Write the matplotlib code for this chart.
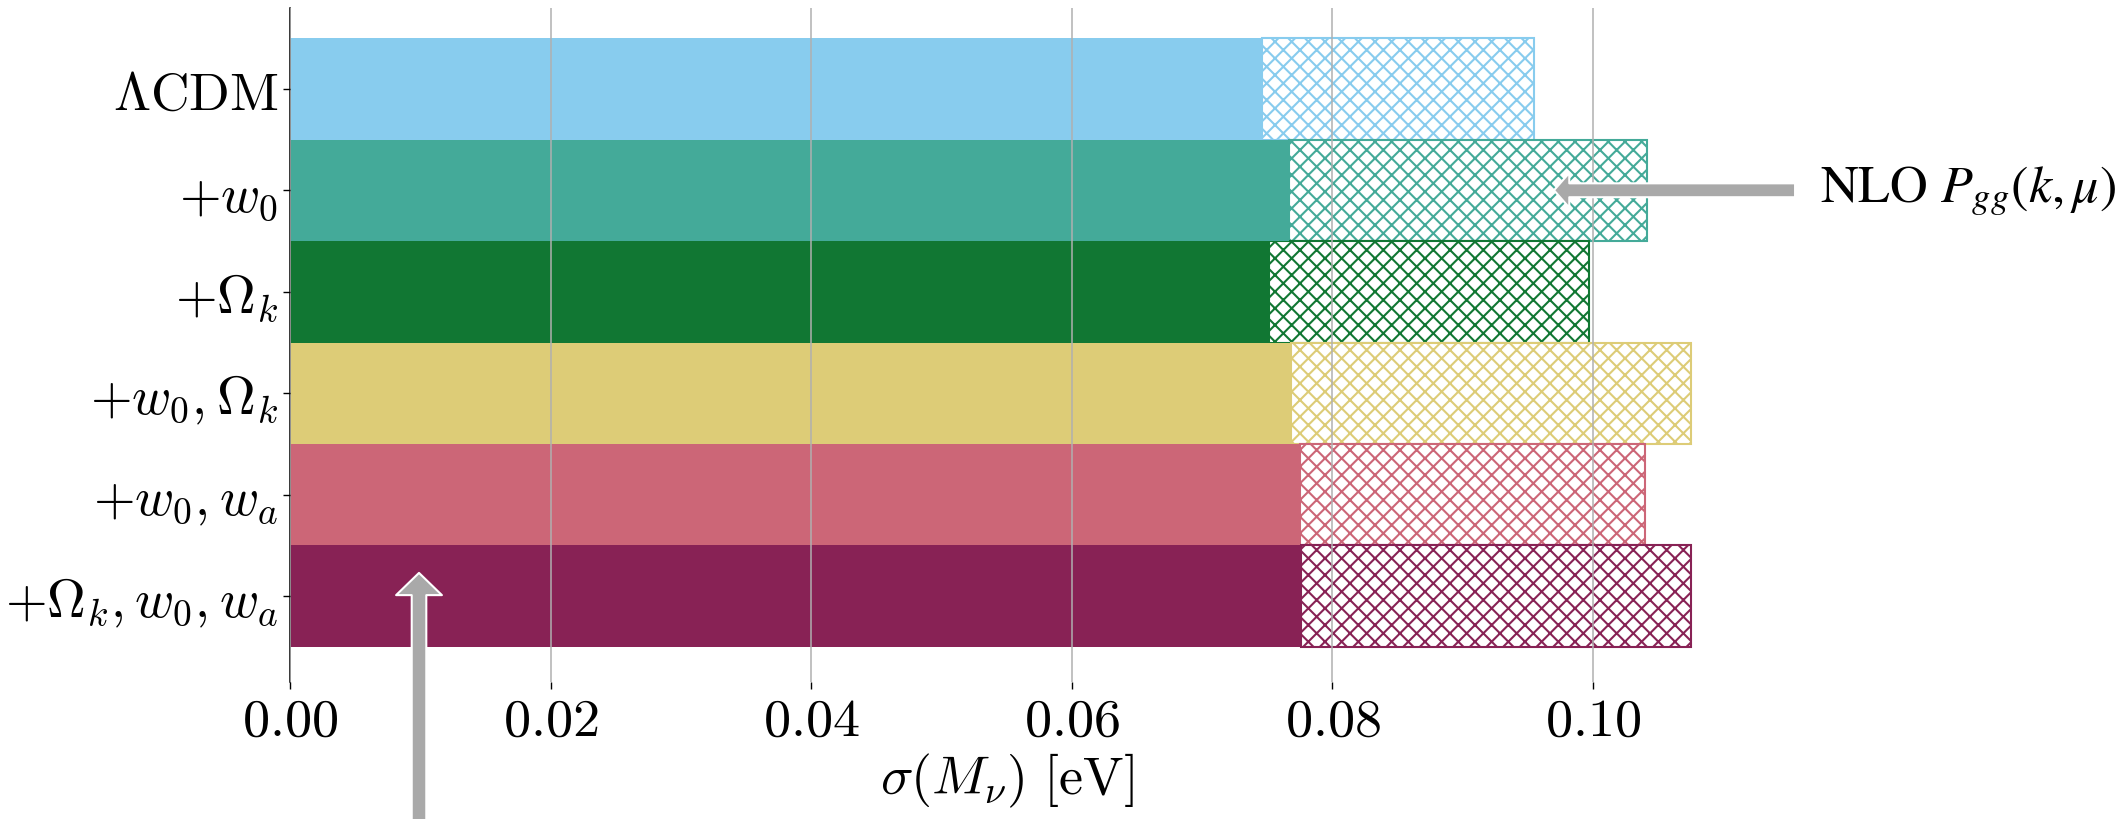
import matplotlib
matplotlib.use("Agg")
import matplotlib.pyplot as plt
import numpy as np

# ---- data ----
categories = [r"$\Lambda\mathrm{CDM}$", r"$+w_0$", r"$+\Omega_k$",
              r"$+w_0, \Omega_k$", r"$+w_0, w_a$", r"$+\Omega_k, w_0, w_a$"]
sigma_base = [0.0746, 0.0767, 0.0751, 0.0768, 0.0775, 0.0776]
sigma_nlo = [0.0955, 0.1041, 0.0997, 0.1075, 0.1040, 0.1075]
colors = ["#88CCEE", "#44AA99", "#117733", "#DDCC77", "#CC6677", "#882255"]
xticks = [0.00, 0.02, 0.04, 0.06, 0.08, 0.10]
xtick_labels = [r"$0.00$", r"$0.02$", r"$0.04$", r"$0.06$", r"$0.08$", r"$0.10$"]
xlabel = r"$\sigma(M_\nu)\ [\mathrm{eV}]$"
nlo_label = r"NLO $P_{gg}(k,\mu)$"

plt.rcParams["mathtext.fontset"] = "cm"
plt.rcParams["hatch.linewidth"] = 1.5
plt.rcParams["font.family"] = ["DejaVu Serif"]

fig = plt.figure(figsize=(21.23, 8.2), dpi=100)
ax = fig.add_axes([290 / 2123, 1 - 683 / 820, (1723.4 - 290) / 2123, (683 - 9.3) / 820])

y = np.arange(len(categories))
base = np.array(sigma_base)
nlo = np.array(sigma_nlo)

for i in range(len(categories)):
    ax.barh(y[i], nlo[i] - base[i], left=base[i], height=1.0, facecolor="white",
            edgecolor=colors[i], hatch="xx", linewidth=1.5, zorder=1)
    ax.barh(y[i], base[i], height=1.0, color=colors[i], linewidth=0, zorder=2)

ax.set_xlim(0, 0.11)
ax.set_ylim(5.845, -0.793)
ax.set_yticks(y, labels=categories, fontsize=38.5)
ax.set_xticks(xticks, labels=xtick_labels, fontsize=39)
ax.set_xlabel(xlabel, fontsize=39, labelpad=4)

ax.grid(axis="x", color="#b0b0b0", linewidth=1.1, zorder=3)
ax.set_axisbelow(False)
for s in ["top", "right", "bottom"]:
    ax.spines[s].set_visible(False)
ax.spines["left"].set_linewidth(1.1)
ax.tick_params(axis="both", length=5, width=1.0)

# annotations
ax.annotate("", xy=(0.0970, 1.0), xytext=(0.1155, 1.0),
            arrowprops=dict(width=10, headwidth=25, headlength=11,
                            facecolor="darkgray", edgecolor="white", lw=1.5, shrink=0),
            annotation_clip=False, zorder=5)
ax.text(0.1174, 1.0, nlo_label, va="center", ha="left", fontsize=37.5,
        family="STIXGeneral", math_fontfamily="stix", clip_on=False)

ax.annotate("", xy=(0.0099, 4.77), xytext=(0.0099, 7.6),
            arrowprops=dict(width=10.5, headwidth=33, headlength=16,
                            facecolor="darkgray", edgecolor="white", lw=1.5, shrink=0),
            annotation_clip=False, zorder=5)

fig.savefig("out.png", dpi=100)
